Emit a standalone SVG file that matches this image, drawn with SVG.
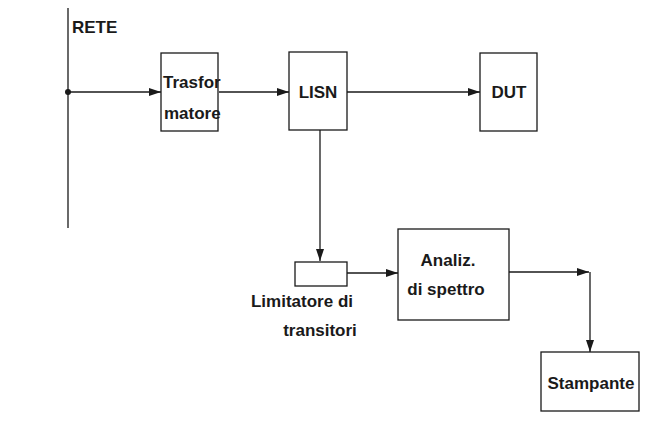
<svg xmlns="http://www.w3.org/2000/svg" width="670" height="430" viewBox="0 0 670 430">
<defs>
<marker id="ah" viewBox="0 0 12 8" refX="12" refY="4" markerWidth="12" markerHeight="8" markerUnits="userSpaceOnUse" orient="auto">
<path d="M0,0 L12,4 L0,8 Z" fill="#1a1a1a"/>
</marker>
<style>
.box{fill:#fff;stroke:#1a1a1a;stroke-width:1.3}
.ln{fill:none;stroke:#1a1a1a;stroke-width:1.3}
.t{font-family:"Liberation Sans",Arial,sans-serif;font-weight:bold;font-size:17px;fill:#1a1a1a}
.c{text-anchor:middle}
</style>
</defs>
<rect width="670" height="430" fill="#fff"/>
<g id="rete">
<line class="ln" x1="68" y1="8" x2="68" y2="228"/>
<circle cx="68" cy="92" r="3" fill="#1a1a1a"/>
<text class="t" x="72" y="33" font-size="16">RETE</text>
</g>
<g id="connectors">
<line class="ln" x1="68" y1="92" x2="161" y2="92" marker-end="url(#ah)"/>
<line class="ln" x1="219" y1="92" x2="289" y2="92" marker-end="url(#ah)"/>
<line class="ln" x1="347" y1="92" x2="480" y2="92" marker-end="url(#ah)"/>
<line class="ln" x1="320" y1="130" x2="320" y2="261" marker-end="url(#ah)"/>
<line class="ln" x1="347" y1="273" x2="398" y2="273" marker-end="url(#ah)"/>
<line class="ln" x1="509" y1="272" x2="589" y2="272" marker-end="url(#ah)"/>
<line class="ln" x1="590" y1="272" x2="590" y2="352" marker-end="url(#ah)"/>
</g>
<g id="trasformatore">
<rect class="box" x="161" y="53" width="57" height="78"/>
<text class="t" x="163" y="88">Trasfor</text>
<text class="t" x="164" y="119">matore</text>
</g>
<g id="lisn">
<rect class="box" x="289" y="52" width="58" height="78"/>
<text class="t c" x="318" y="98">LISN</text>
</g>
<g id="dut">
<rect class="box" x="480" y="53" width="57" height="78"/>
<text class="t c" x="509" y="98">DUT</text>
</g>
<g id="limitatore">
<rect class="box" x="295" y="262" width="52" height="24"/>
<text class="t c" x="302" y="307">Limitatore di</text>
<text class="t c" x="320" y="336">transitori</text>
</g>
<g id="analizzatore">
<rect class="box" x="398" y="229" width="111" height="91"/>
<text class="t c" x="448" y="266">Analiz.</text>
<text class="t c" x="446" y="295">di spettro</text>
</g>
<g id="stampante">
<rect class="box" x="541" y="352" width="98" height="59"/>
<text class="t c" x="591" y="389">Stampante</text>
</g>
</svg>
